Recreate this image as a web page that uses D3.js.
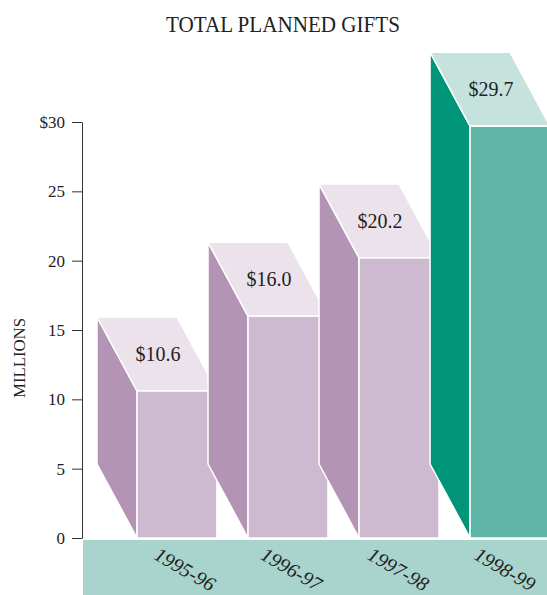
<!DOCTYPE html>
<html>
<head>
<script src='https://d3js.org/d3.v7.min.js'></script>
<style>
body {margin:0; background:#fff;}
text {font-family:'Liberation Serif', 'Times New Roman', serif; fill:#222;}
</style>
</head>
<body>
<svg width=547 height=595></svg>
<script>
var years = ['1995-96','1996-97','1997-98','1998-99']
var gifts = [10.6,16.0,20.2,29.7]
var valueLabels = ['$10.6','$16.0','$20.2','$29.7']
var ticks = [0,5,10,15,20,25,30]
var tickLabels = ['0','5','10','15','20','25','$30']

// face colours: side, front, top
var purple = ['#b394b5','#cdb9d0','#ebe2ec']
var green = ['#009479','#5fb5a8','#c6e2dd']
var faceColors = [purple,purple,purple,green]

var depthX = 40, depthY = 74
var svg = d3.select('svg')

var x = d3.scaleBand().domain(years).range([137,550]).paddingInner(0.28).paddingOuter(0)
var y = d3.scaleLinear().domain([0,30]).range([538,122])
var xl = d3.scalePoint().domain(years).range([185,505])

//title
svg.append('text')
   .attr('x',283).attr('y',32)
   .attr('text-anchor','middle')
   .attr('font-size',23)
   .attr('textLength',234).attr('lengthAdjust','spacingAndGlyphs')
   .text('TOTAL PLANNED GIFTS')

//bottom band
svg.append('rect')
   .attr('x',83).attr('y',540)
   .attr('width',464).attr('height',55)
   .attr('fill','#a9d3cd')

//y axis
var axis = svg.append('g')
   .attr('transform','translate(82,0)')
   .call(d3.axisLeft(y).tickValues(ticks).tickSize(10).tickSizeOuter(0)
         .tickFormat(function(d,i){return tickLabels[i]}))
axis.select('.domain').attr('stroke','#333')
axis.selectAll('.tick line').attr('stroke','#333')
axis.selectAll('.tick text')
   .attr('x',-17).attr('font-size',17)
   .attr('font-family','Liberation Serif').attr('fill','#222')

svg.append('text')
   .attr('transform','translate(25,358) rotate(-90)')
   .attr('text-anchor','middle')
   .attr('font-size',16)
   .attr('textLength',80).attr('lengthAdjust','spacingAndGlyphs')
   .text('MILLIONS')

//bars
var bars = svg.selectAll('.bar')
   .data(gifts)
   .enter()
   .append('g').attr('class','bar')

function pts(a){return a.map(function(p){return p.join(',')}).join(' ')}

bars.append('polygon') // side
   .attr('points',function(d,i){
      var x0 = x(years[i]), yt = y(d), yb = y(0)
      return pts([[x0,yb],[x0-depthX,yb-depthY],[x0-depthX,yt-depthY],[x0,yt]])})
   .attr('fill',function(d,i){return faceColors[i][0]})
   .attr('stroke','#fff').attr('stroke-width',1.5)

bars.append('polygon') // top
   .attr('points',function(d,i){
      var x0 = x(years[i]), x1 = x0+x.bandwidth(), yt = y(d)
      return pts([[x0,yt],[x0-depthX,yt-depthY],[x1-depthX,yt-depthY],[x1,yt]])})
   .attr('fill',function(d,i){return faceColors[i][2]})
   .attr('stroke','#fff').attr('stroke-width',1.5)

bars.append('rect') // front
   .attr('x',function(d,i){return x(years[i])})
   .attr('y',function(d){return y(d)})
   .attr('width',x.bandwidth())
   .attr('height',function(d){return y(0)-y(d)})
   .attr('fill',function(d,i){return faceColors[i][1]})
   .attr('stroke','#fff').attr('stroke-width',1.5)

bars.append('text')
   .attr('x',function(d,i){return x(years[i])+x.bandwidth()/2-depthX/2+1})
   .attr('y',function(d){return y(d)-depthY/2+7})
   .attr('text-anchor','middle')
   .attr('font-size',20)
   .text(function(d,i){return valueLabels[i]})

//x labels
svg.selectAll('.xlab')
   .data(years)
   .enter()
   .append('text')
   .attr('transform',function(d){return 'translate('+xl(d)+',569) rotate(30)'})
   .attr('text-anchor','middle')
   .attr('dy','0.35em')
   .attr('font-size',20)
   .attr('font-style','italic')
   .text(function(d){return d})
</script>
</body>
</html>
